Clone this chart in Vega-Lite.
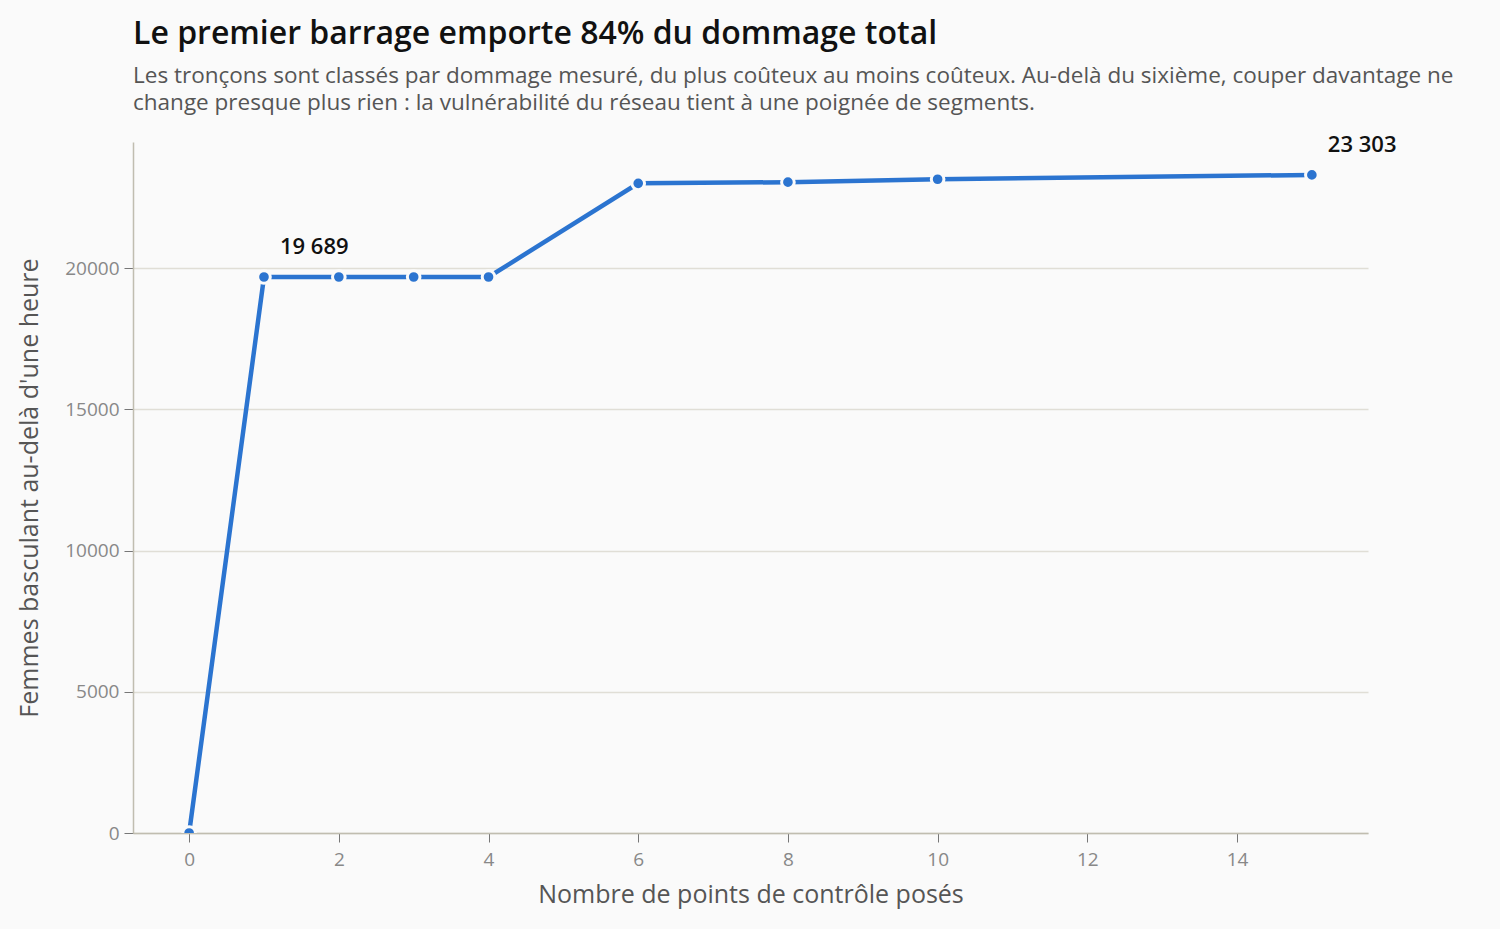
{
  "$schema": "https://vega.github.io/schema/vega-lite/v6.json",
  "width": 1235,
  "height": 691,
  "autosize": {"type": "none"},
  "padding": {"left": 133, "top": 142, "right": 132, "bottom": 96},
  "background": "#fafafa",
  "config": {
    "font": "Open Sans",
    "view": {"stroke": null},
    "axis": {
      "labelColor": "#888888",
      "labelFontSize": 19,
      "titleColor": "#555555",
      "titleFontSize": 25,
      "titleFontWeight": "normal",
      "domainColor": "#c0bdb0",
      "domainWidth": 1.5,
      "tickColor": "#777777",
      "tickSize": 9,
      "gridColor": "#e0ded6",
      "gridWidth": 1.5
    }
  },
  "title": {
    "text": "Le premier barrage emporte 84% du dommage total",
    "subtitle": [
      "Les tronçons sont classés par dommage mesuré, du plus coûteux au moins coûteux. Au-delà du sixième, couper davantage ne",
      "change presque plus rien : la vulnérabilité du réseau tient à une poignée de segments."
    ],
    "anchor": "start",
    "frame": "group",
    "fontSize": 32,
    "fontWeight": 600,
    "color": "#111111",
    "subtitleFontSize": 22.5,
    "subtitleColor": "#555555",
    "subtitleLineHeight": 27,
    "subtitlePadding": 14,
    "offset": 18
  },
  "data": {
    "values": [
      {"points": 0, "femmes": 0, "label": ""},
      {"points": 1, "femmes": 19689, "label": "19 689"},
      {"points": 2, "femmes": 19689, "label": ""},
      {"points": 3, "femmes": 19689, "label": ""},
      {"points": 4, "femmes": 19689, "label": ""},
      {"points": 6, "femmes": 23005, "label": ""},
      {"points": 8, "femmes": 23045, "label": ""},
      {"points": 10, "femmes": 23150, "label": ""},
      {"points": 15, "femmes": 23303, "label": "23 303"}
    ]
  },
  "encoding": {
    "x": {
      "field": "points",
      "type": "quantitative",
      "scale": {"domain": [-0.75, 15.75], "nice": false},
      "axis": {"title": "Nombre de points de contrôle posés", "grid": false, "values": [0, 2, 4, 6, 8, 10, 12, 14], "labelPadding": 8, "titlePadding": 13}
    },
    "y": {
      "field": "femmes",
      "type": "quantitative",
      "scale": {"domain": [0, 24468], "nice": false},
      "axis": {"title": "Femmes basculant au-delà d'une heure", "values": [0, 5000, 10000, 15000, 20000], "format": "d", "labelPadding": 5, "titlePadding": 22}
    }
  },
  "layer": [
    {
      "mark": {"type": "line", "color": "#2b74d0", "strokeWidth": 4.5, "clip": true}
    },
    {
      "mark": {"type": "point", "filled": true, "fill": "#2b74d0", "stroke": "#fafafa", "strokeWidth": 3, "size": 160, "opacity": 1, "clip": true}
    },
    {
      "mark": {"type": "text", "align": "left", "baseline": "middle", "dx": 16, "dy": -30, "fontSize": 22, "fontWeight": 600, "color": "#111111"},
      "encoding": {"text": {"field": "label"}}
    }
  ]
}
